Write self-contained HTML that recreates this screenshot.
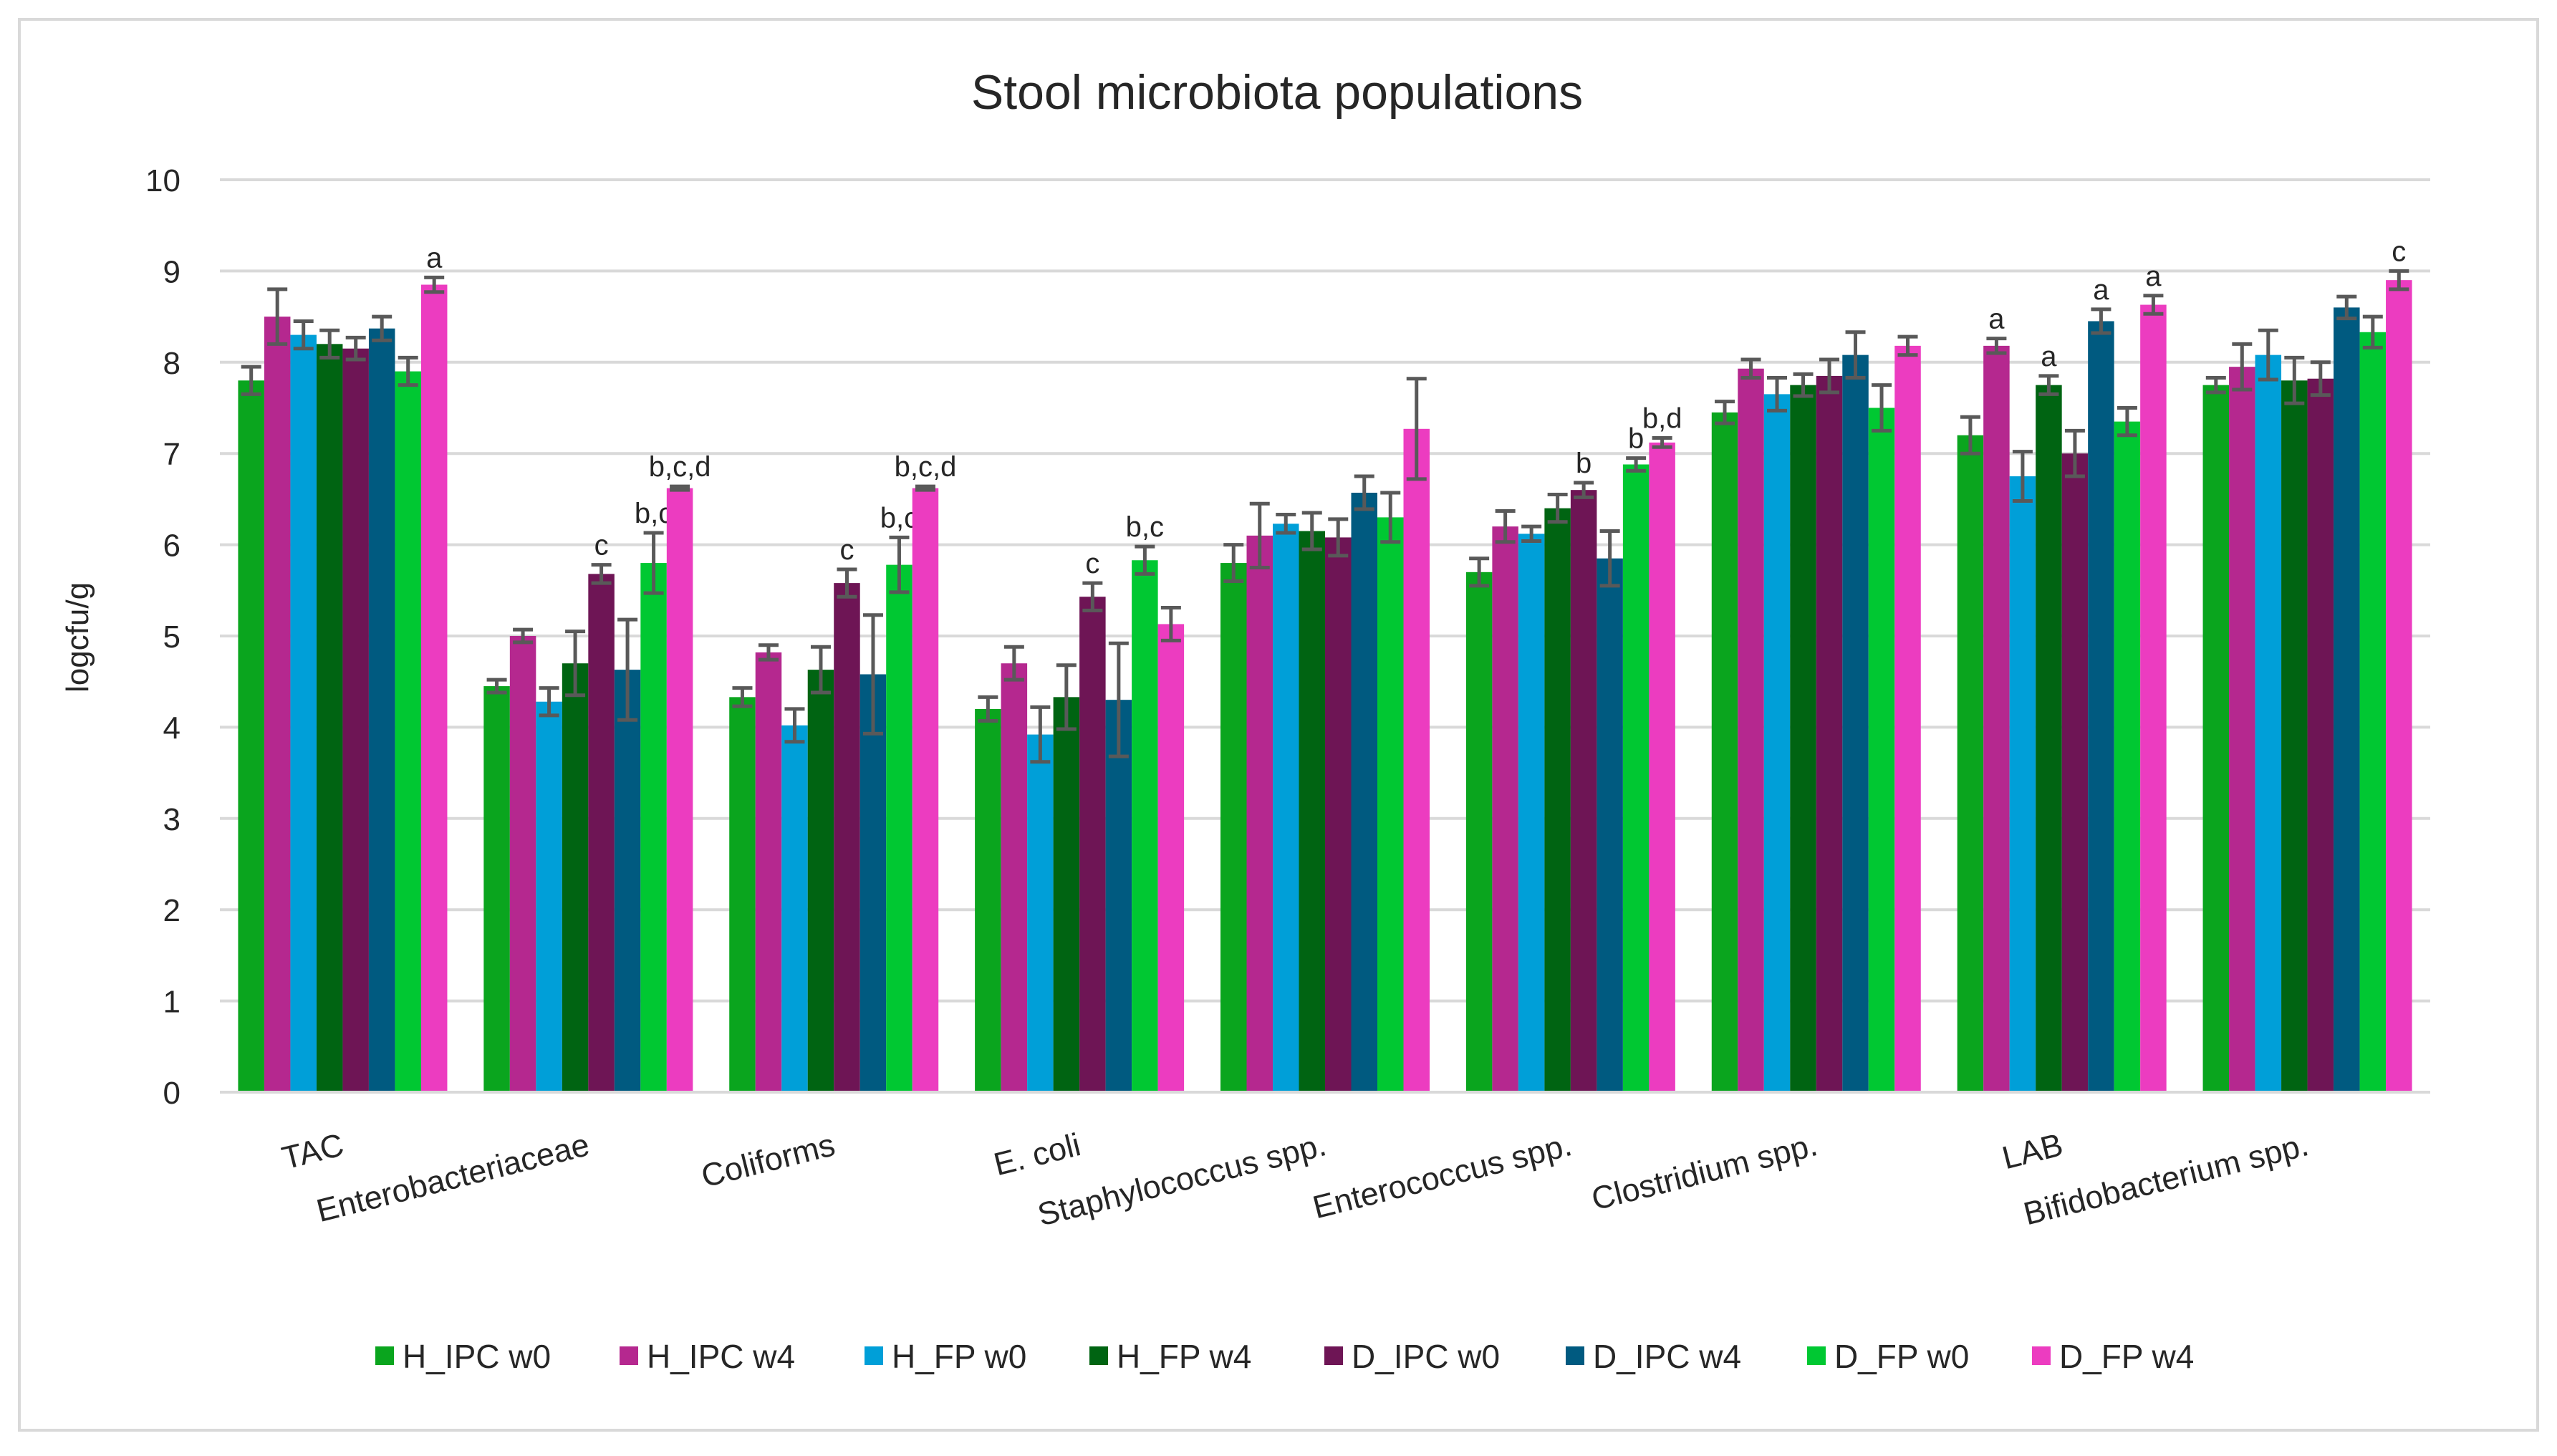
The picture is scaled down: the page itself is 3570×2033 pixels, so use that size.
<!DOCTYPE html>
<html><head><meta charset="utf-8"><style>
html,body{margin:0;padding:0;background:#fff;}
svg{display:block;font-family:"Liberation Sans",sans-serif;}
</style></head><body>
<svg id="chart" width="3570" height="2033" viewBox="0 0 3570 2033" xmlns="http://www.w3.org/2000/svg">
<rect x="27" y="27" width="3516" height="1970" fill="#fff" stroke="#d9d9d9" stroke-width="4"/>
<text x="1783" y="152" text-anchor="middle" font-size="68" fill="#262626">Stool microbiota populations</text>
<text transform="translate(123,890) rotate(-90)" text-anchor="middle" font-size="44" fill="#262626">logcfu/g</text>
<g id="grid"></g><g id="bars"></g><g id="labels"></g><g id="legend"></g>
</svg>
<script>
const categories = ["TAC","Enterobacteriaceae","Coliforms","E. coli","Staphylococcus spp.","Enterococcus spp.","Clostridium spp.","LAB","Bifidobacterium spp."];
const seriesNames = ["H_IPC w0","H_IPC w4","H_FP w0","H_FP w4","D_IPC w0","D_IPC w4","D_FP w0","D_FP w4"];
const seriesColors = ["#0aa51e","#b5288f","#009fd8","#006412","#6e1555","#005a80","#00c832","#ec3cc0"];
const values = [
 [7.8,8.5,8.3,8.2,8.15,8.37,7.9,8.85],
 [4.45,5.0,4.28,4.7,5.68,4.63,5.8,6.62],
 [4.33,4.82,4.02,4.63,5.58,4.58,5.78,6.62],
 [4.2,4.7,3.92,4.33,5.43,4.3,5.83,5.13],
 [5.8,6.1,6.23,6.15,6.08,6.57,6.3,7.27],
 [5.7,6.2,6.12,6.4,6.6,5.85,6.88,7.12],
 [7.45,7.93,7.65,7.75,7.85,8.08,7.5,8.18],
 [7.2,8.18,6.75,7.75,7.0,8.45,7.35,8.63],
 [7.75,7.95,8.08,7.8,7.82,8.6,8.33,8.9]
];
const errors = [
 [0.15,0.3,0.15,0.15,0.12,0.13,0.15,0.08],
 [0.07,0.07,0.15,0.35,0.1,0.55,0.33,0.02],
 [0.1,0.08,0.18,0.25,0.15,0.65,0.3,0.02],
 [0.13,0.18,0.3,0.35,0.15,0.62,0.15,0.18],
 [0.2,0.35,0.1,0.2,0.2,0.18,0.27,0.55],
 [0.15,0.17,0.08,0.15,0.08,0.3,0.07,0.05],
 [0.12,0.1,0.18,0.12,0.18,0.25,0.25,0.1],
 [0.2,0.08,0.27,0.1,0.25,0.13,0.15,0.1],
 [0.08,0.25,0.27,0.25,0.18,0.12,0.17,0.1]
];
const annotations = [
 ["","","","","","","","a"],
 ["","","","","c","","b,c","b,c,d"],
 ["","","","","c","","b,c","b,c,d"],
 ["","","","","c","","b,c",""],
 ["","","","","","","",""],
 ["","","","","b","","b","b,d"],
 ["","","","","","","",""],
 ["","a","","a","","a","","a"],
 ["","","","","","","","c"]
];
const yTicks = [0,1,2,3,4,5,6,7,8,9,10];

const NS="http://www.w3.org/2000/svg";
const X0=307, X1=3393, Y0=1525, Y10=251;
const groupW=(X1-X0)/categories.length, barW=36.5;
function yScale(v){return Y0-(Y0-Y10)*v/10;}
function groupCenter(i){return X0+groupW*(i+0.5);}
function barX(i,j){return groupCenter(i)-barW*4+barW*j;}
function mk(tag,attrs,parent){const e=document.createElementNS(NS,tag);for(const k in attrs)e.setAttribute(k,attrs[k]);parent.appendChild(e);return e;}

const grid=document.getElementById('grid');
yTicks.forEach(t=>{
 const l=mk('line',{x1:X0,x2:X1,y1:yScale(t),y2:yScale(t),stroke:'#d9d9d9','stroke-width':4},grid);
 
 
 const tx=mk('text',{x:252,y:yScale(t)+16,'text-anchor':'end','font-size':44,fill:'#262626'},grid);
 tx.textContent=t;
 
 
});

const bars=document.getElementById('bars');
categories.forEach((c,i)=>{
 values[i].forEach((v,j)=>{
  const r=mk('rect',{x:barX(i,j),y:yScale(v),width:barW,height:Y0-yScale(v),fill:seriesColors[j]},bars);
  
  
  const cx=barX(i,j)+barW/2, e=errors[i][j];
  const eb=mk('path',{d:`M${cx},${yScale(v+e)}V${yScale(v-e)}M${cx-14},${yScale(v+e)}h28M${cx-14},${yScale(v-e)}h28`,stroke:'#595959','stroke-width':5,fill:'none'},bars);
  
  
  if(annotations[i][j]){
   const a=mk('text',{x:cx,y:yScale(v+e)-14,'text-anchor':'middle','font-size':40,fill:'#262626'},bars);
   a.textContent=annotations[i][j];
   
   
  }
 });
});
const axis=mk('line',{x1:X0,x2:X1,y1:Y0,y2:Y0,stroke:'#d9d9d9','stroke-width':4},bars);



const labels=document.getElementById('labels');
categories.forEach((c,i)=>{
 const x=groupCenter(i)+4, y=1612;
 const t=mk('text',{x:x,y:y,'text-anchor':'end','font-size':45,fill:'#262626',transform:`rotate(-14 ${x} ${y})`},labels);
 t.textContent=c;
 
 
});

const legend=document.getElementById('legend');
const legX=[524,865,1207,1521,1849,2186,2523,2837];
seriesNames.forEach((n,j)=>{
 const g=mk('g',{},legend);
 
 
 mk('rect',{x:legX[j],y:1880,width:26,height:26,fill:seriesColors[j]},g);
 const t=mk('text',{x:legX[j]+38,y:1910,'font-size':46,fill:'#262626'},g);
 t.textContent=n;
});
</script>
</body></html>
